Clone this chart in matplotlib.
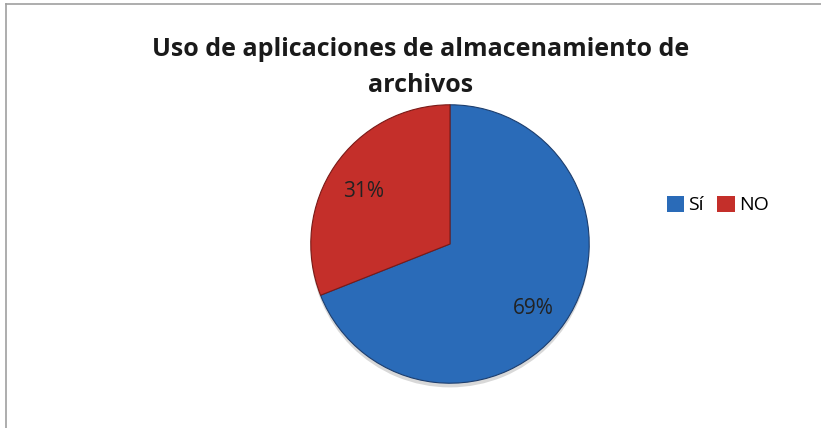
import numpy as np
import matplotlib
matplotlib.use("Agg")
import matplotlib.pyplot as plt
from matplotlib.lines import Line2D
from matplotlib.patches import Patch

# data
labels = ["Sí", "NO"]
values = [69, 31]
colors = ["#2a6bb8", "#c42f2a"]

plt.rcParams["font.family"] = ["Open Sans", "DejaVu Sans"]

fig = plt.figure(figsize=(8.21, 4.28), dpi=100)

# frame lines (top and left)
fig.add_artist(Line2D([6 / 821, 1.0], [1 - 4 / 428, 1 - 4 / 428], color="#a0a0a0", lw=1.2))
fig.add_artist(Line2D([6 / 821, 6 / 821], [0.0, 1 - 4 / 428], color="#a0a0a0", lw=1.2))

fig.text(421 / 821, 1 - 50 / 428, "Uso de aplicaciones de almacenamiento de",
         ha="center", va="center", fontsize=18, fontweight="bold", color="#1a1a1a")
fig.text(421 / 821, 1 - 85 / 428, "archivos",
         ha="center", va="center", fontsize=18, fontweight="bold", color="#1a1a1a")

# pie axes: center (450, 244), radius ~142 px
r = 142
ax = fig.add_axes([(450 - r) / 821, (428 - 244 - r) / 428, 2 * r / 821, 2 * r / 428])
ax.set_aspect("equal")

# soft shadow
ax.pie([1], radius=1.0, colors=["#d8d8d8"], center=(0.0, -0.03),
       wedgeprops=dict(linewidth=0))

wedges, texts = ax.pie(values, colors=colors, startangle=90, counterclock=False,
                       radius=1.0,
                       wedgeprops=dict(edgecolor="#1d3e6e", linewidth=0.8))
wedges[1].set_edgecolor("#7a1a17")

# percentage labels
pos = [(0.6, -0.465), (-0.62, 0.38)]
for p, v in zip(pos, values):
    ax.text(p[0], p[1], f"{v}%", ha="center", va="center", fontsize=15, color="#222222")

ax.set_xlim(-1.02, 1.02)
ax.set_ylim(-1.02, 1.02)
ax.axis("off")

handles = [Patch(facecolor=c, edgecolor="none") for c in colors]
fig.legend(handles, labels, loc="center left", bbox_to_anchor=(657 / 821, 1 - 205 / 428),
           ncol=2, frameon=False, fontsize=14, handlelength=0.9, handleheight=0.9,
           handletextpad=0.2, columnspacing=0.7, borderpad=0)

fig.savefig("out.png", dpi=100)
